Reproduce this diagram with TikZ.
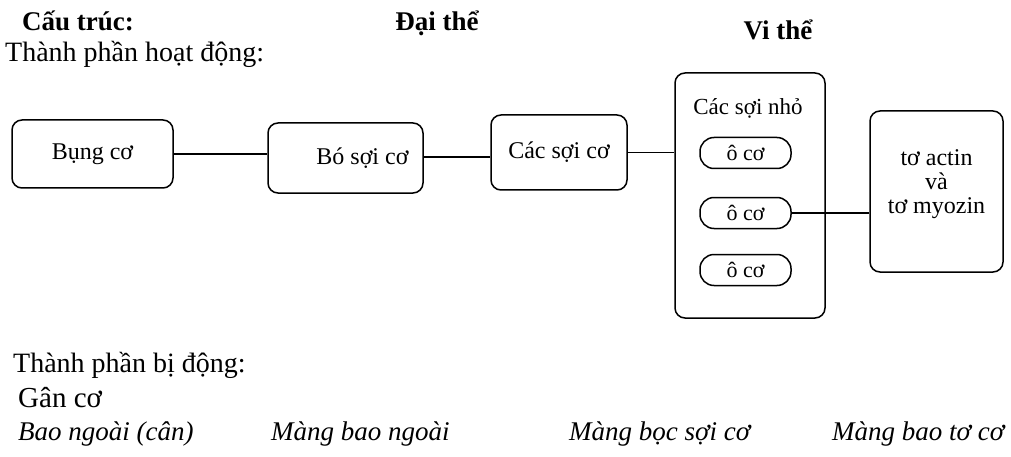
\documentclass[tikz,border=0pt]{standalone}
\usepackage{fontspec}
\setmainfont{Liberation Serif}
\begin{document}
\begin{tikzpicture}[x=1pt,y=-1pt,
  box/.style={draw, line width=1.5pt, rounded corners=10pt, inner sep=0pt, align=center, font=\fontsize{24}{24}\selectfont},
  pill/.style={draw, line width=1.5pt, rounded corners=14pt, inner sep=0pt, minimum width=91pt, minimum height=31pt, font=\fontsize{22}{26}\selectfont},
  lbl/.style={anchor=west, inner sep=0pt, font=\fontsize{28}{32}\selectfont},
  ital/.style={anchor=west, inner sep=0pt, font=\itshape\fontsize{27}{30}\selectfont},
  head/.style={inner sep=0pt, font=\bfseries\fontsize{27}{32}\selectfont},
  conn/.style={line width=1.4pt}]
\useasboundingbox (0,0) rectangle (1011,457);
% headings
\node[head, anchor=west] (cautruc) at (22,21) {Cấu trúc:};
\node[head] (daithe) at (437,23) {Đại thể};
\node[head] (vithe) at (778,30) {Vi thể};
\node[lbl] (hoatdong) at (5,54) {Thành phần hoạt động:};
% boxes
\node[box, minimum width=161pt, minimum height=68pt] (bung) at (92.5,154) {Bụng cơ};
\node[box, minimum width=155pt, minimum height=70pt] (bo) at (345.5,158) {\hspace*{34pt}Bó sợi cơ};
\node[box, minimum width=136pt, minimum height=75pt] (cac) at (559,152.5) {Các sợi cơ};
\node[box, minimum width=150pt, minimum height=245pt] (big) at (750,195.5) {};
\node[inner sep=0pt, font=\fontsize{23}{26}\selectfont] (nho) at (748,108) {Các sợi nhỏ};
\node[pill] (o1) at (745.5,153) {ô cơ};
\node[pill] (o2) at (745.5,213) {ô cơ};
\node[pill] (o3) at (745.5,270) {ô cơ};
\node[box, minimum width=133pt, minimum height=161pt] (to) at (936.5,191.5) {};
\node[inner sep=0pt, align=center, font=\fontsize{24}{24}\selectfont] (totext) at (936.5,184) {tơ actin\\và\\tơ myozin};
% connectors
\draw[conn] (bung.east) -- (bung.east -| bo.west);
\draw[conn] ([yshift=1pt]bo.east) -- ([yshift=1pt]bo.east -| cac.west);
\draw[conn] (cac.east) -- (cac.east -| big.west);
\draw[conn] (o2.east) -- (o2.east -| to.west);
% passive part
\node[lbl] (bidong) at (13,365) {Thành phần bị động:};
\node[lbl, font=\fontsize{29}{32}\selectfont] (gan) at (18,398) {Gân cơ};
\node[ital] (baongoai) at (18,434) {Bao ngoài (cân)};
\node[ital] (mangngoai) at (271,434) {Màng bao ngoài};
\node[ital] (mangboc) at (569,434) {Màng bọc sợi cơ};
\node[ital] (mangto) at (832,434) {Màng bao tơ cơ};
\end{tikzpicture}
\end{document}
